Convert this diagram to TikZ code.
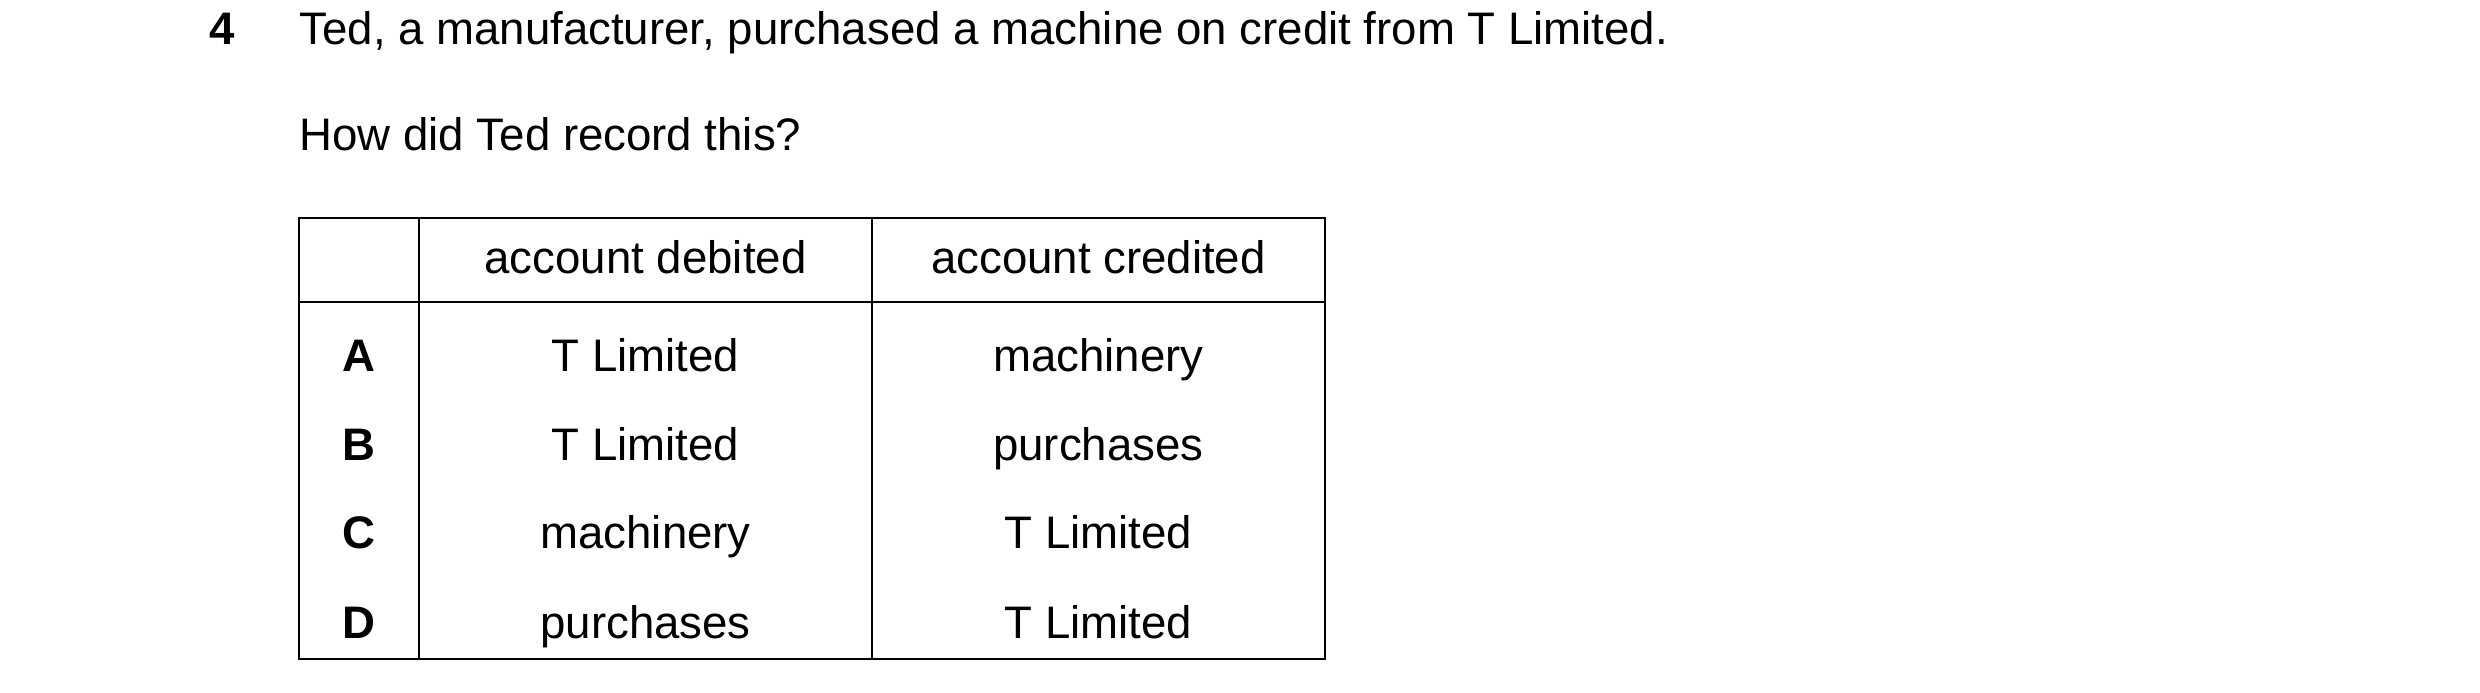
\documentclass[tikz,border=0pt]{standalone}
\usepackage{fontspec}
\setmainfont{Liberation Sans}
\begin{document}
\begin{tikzpicture}[x=1pt,y=-1pt,
  t/.style={inner sep=0pt,text height=20pt,text depth=6pt,font=\fontsize{28.5}{32}\selectfont},
  b/.style={t,font=\fontsize{28.5}{32}\selectfont\bfseries},
  grid/.style={line width=1.2pt}]
\useasboundingbox (0,0) rectangle (1550,433);
\node[b,anchor=west] (n) at (131,21) {4};
\node[t,anchor=west] (q) at (187,21) {Ted, a manufacturer, purchased a machine on credit from T Limited.};
\node[t,anchor=west] (h) at (187,87) {How did Ted record this?};
\draw[grid] (187,136) rectangle (828,412);
\draw[grid] (187,189) -- (828,189);
\draw[grid] (262,136) -- (262,412);
\draw[grid] (545,136) -- (545,412);
\node[t] (h1) at (403.5,164) {account debited};
\node[t] (h2) at (686.5,164) {account credited};
\foreach \l/\d/\c/\y in {A/T Limited/machinery/225, B/T Limited/purchases/281, C/machinery/T Limited/336, D/purchases/T Limited/392}{
  \node[b] (l\l) at (224.5,\y) {\l};
  \node[t] (d\l) at (403.5,\y) {\d};
  \node[t] (c\l) at (686.5,\y) {\c};
}
\end{tikzpicture}
\end{document}
